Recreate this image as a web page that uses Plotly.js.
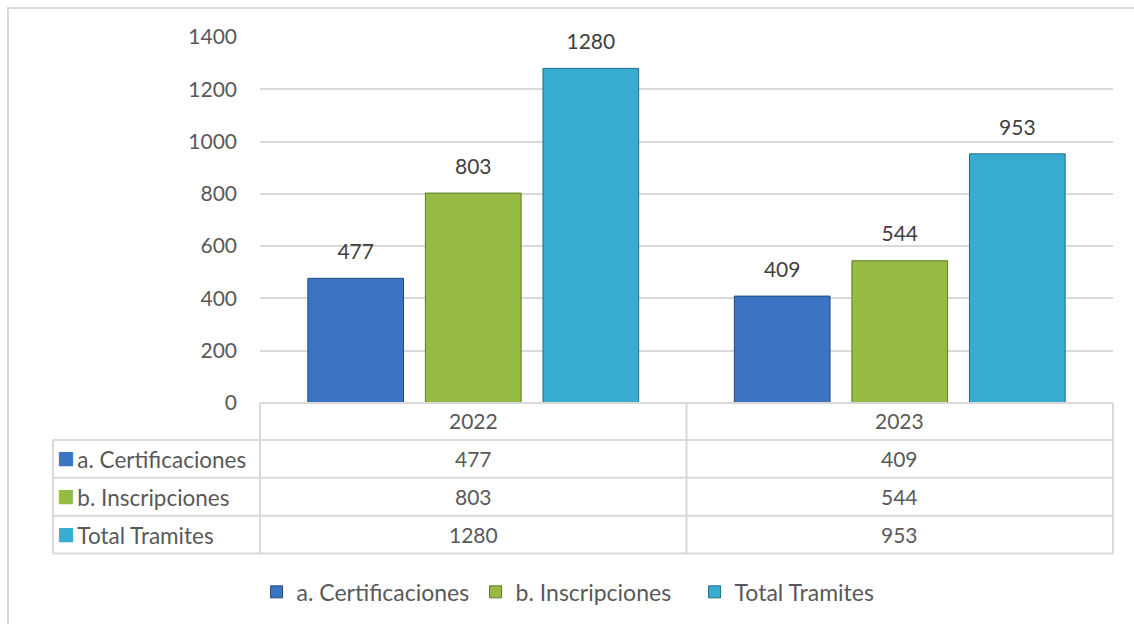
<!DOCTYPE html>
<html>
<head>
<meta charset="utf-8">
<script src="https://cdn.plot.ly/plotly-3.0.1.min.js"></script>
<style>html,body{margin:0;padding:0;background:#fff}</style>
</head>
<body>
<div id="chart" style="width:1134px;height:624px"></div>
<script>
// datos del grafico
const years = ["2022", "2023"];
const seriesNames = ["a. Certificaciones", "b. Inscripciones", "Total Tramites"];
const certificaciones = [477, 409];
const inscripciones = [803, 544];
const totalTramites = [1280, 953];
const yTicks = [0, 200, 400, 600, 800, 1000, 1200, 1400];

const colors = ["#3b74c2", "#96bb45", "#37abd0"];
const edges = ["#234a7e", "#5e7a26", "#1f6e88"];
const fontFam = "Lato, 'Open Sans', sans-serif";
const txt = "#595959";
const grid = "#d9d9d9";

const series = [certificaciones, inscripciones, totalTramites];

const traces = series.map(function (vals, i) {
  return {
    type: "bar",
    name: seriesNames[i],
    x: years,
    y: vals,
    text: vals.map(String),
    // linea extra pequeña para separar la etiqueta de la barra
    texttemplate: '<span style="font-size:21px">%{text}</span><br> ',
    textposition: "outside",
    constraintext: "none",
    cliponaxis: false,
    textfont: { family: fontFam, size: 11, color: "#404040" },
    marker: { color: colors[i], line: { color: edges[i], width: 1 } },
    hoverinfo: "skip",
  };
});

// tabla de datos debajo del eje
const rowY = [-0.1526, -0.2561, -0.3597];
const lineY = [0, -0.1008, -0.2044, -0.3079, -0.4114];
const labelX = -0.2427;

const shapes = [];
// marco exterior
shapes.push({ type: "rect", xref: "paper", yref: "paper", x0: -0.2954, x1: 1.05, y0: -0.62, y1: 1.079,
  line: { color: grid, width: 2 }, layer: "below" });
// lineas horizontales
lineY.forEach(function (y, k) {
  shapes.push({ type: "line", xref: "paper", yref: "paper", x0: k === 0 ? 0 : labelX, x1: 1, y0: y, y1: y,
    line: { color: grid, width: 2 } });
});
// lineas verticales
shapes.push({ type: "line", xref: "paper", yref: "paper", x0: 0, x1: 0, y0: 0, y1: lineY[4], line: { color: grid, width: 2 } });
shapes.push({ type: "line", xref: "paper", yref: "paper", x0: 1, x1: 1, y0: 0, y1: lineY[4], line: { color: grid, width: 2 } });
shapes.push({ type: "line", xref: "paper", yref: "paper", x0: labelX, x1: labelX, y0: lineY[1], y1: lineY[4], line: { color: grid, width: 2 } });
shapes.push({ type: "line", xref: "paper", yref: "paper", x0: 0.5, x1: 0.5, y0: 0, y1: lineY[4], line: { color: grid, width: 2 } });

const annotations = [];
years.forEach(function (yr, j) {
  annotations.push({ xref: "x", yref: "paper", x: j, y: -0.049, yanchor: "middle", text: yr, showarrow: false,
    font: { family: fontFam, size: 21, color: txt } });
});
seriesNames.forEach(function (name, i) {
  annotations.push({ xref: "paper", yref: "paper", x: labelX + 0.002, xanchor: "left", y: rowY[i], yanchor: "middle",
    yshift: 2,
    text: '<span style="color:' + colors[i] + ';font-size:29px">■</span>\u2009' + name, showarrow: false,
    font: { family: fontFam, size: 22.5, color: txt } });
  years.forEach(function (yr, j) {
    annotations.push({ xref: "x", yref: "paper", x: j, y: rowY[i], yanchor: "middle", text: String(series[i][j]),
      showarrow: false, font: { family: fontFam, size: 21, color: txt } });
  });
});

const layout = {
  width: 1134,
  height: 624,
  margin: { l: 260, r: 21, t: 37, b: 220 },
  paper_bgcolor: "#ffffff",
  plot_bgcolor: "#ffffff",
  barmode: "group",
  bargap: 0.173,
  bargroupgap: 0.186,
  showlegend: true,
  legend: {
    orientation: "h",
    x: -0.004,
    xanchor: "left",
    y: -0.512,
    yanchor: "middle",
    entrywidth: 174,
    itemwidth: 30,
    font: { family: fontFam, size: 23, color: txt },
  },
  xaxis: { type: "category", range: [-0.5, years.length - 0.5], showticklabels: false, showgrid: false,
    zeroline: false, showline: false, fixedrange: true },
  yaxis: {
    range: [0, 1400],
    tickvals: yTicks,
    ticktext: yTicks.map(String),
    showgrid: true,
    gridcolor: grid,
    gridwidth: 2,
    zeroline: false,
    showline: false,
    ticklabelstandoff: 22,
    tickfont: { family: fontFam, size: 21, color: txt },
    fixedrange: true,
  },
  shapes: shapes,
  annotations: annotations,
};

Plotly.newPlot("chart", traces, layout, { displayModeBar: false, staticPlot: true });
</script>
</body>
</html>
